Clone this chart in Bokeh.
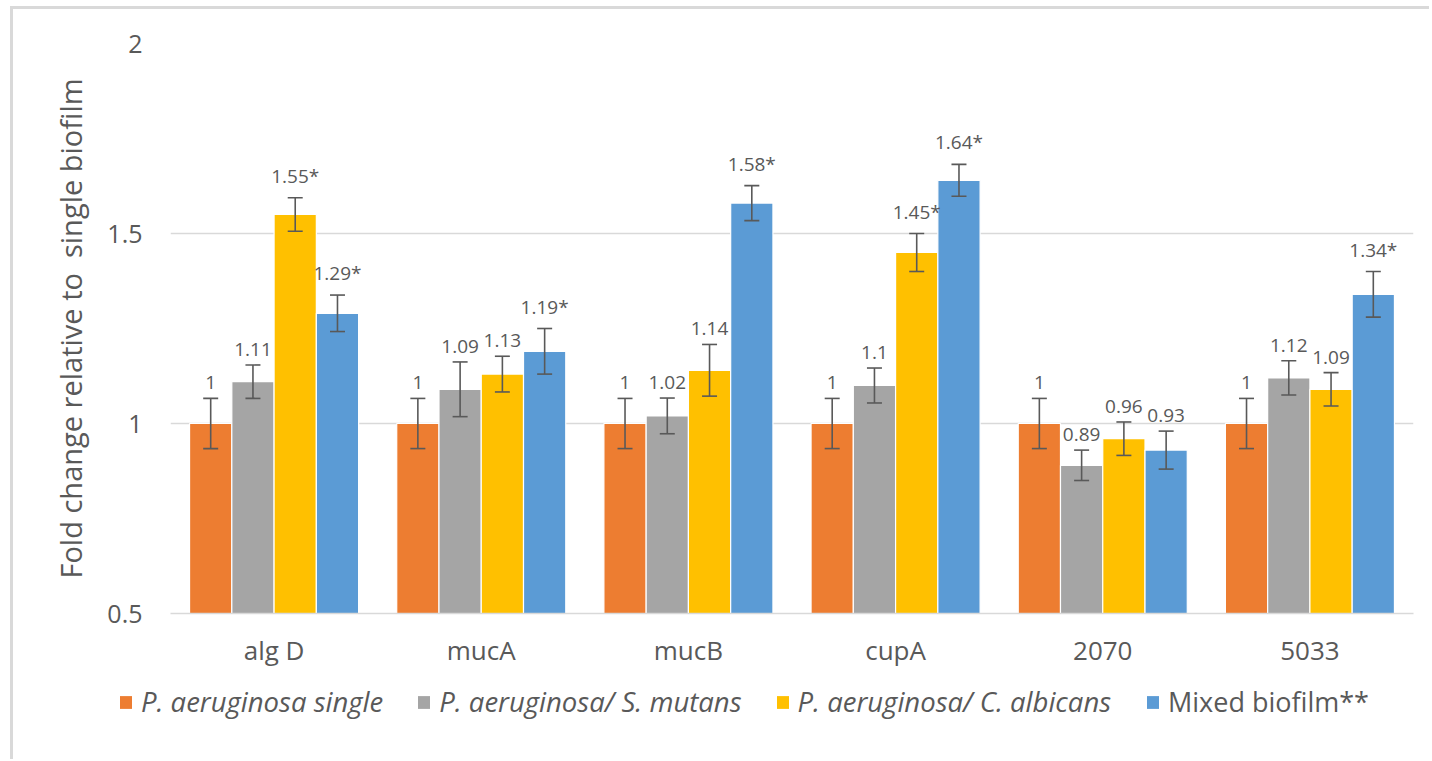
from bokeh.plotting import figure
from bokeh.layouts import column
from bokeh.models import (ColumnDataSource, FactorRange, Whisker, TeeHead, LabelSet,
                          Legend, LegendItem)
from bokeh.core.properties import value
from bokeh.transform import dodge
from bokeh.embed import file_html
from bokeh.resources import INLINE

# Genes on the category axis
genes = ["alg D", "mucA", "mucB", "cupA", "2070", "5033"]

# Fold change per condition
pa_single = [1, 1, 1, 1, 1, 1]
pa_smutans = [1.11, 1.09, 1.02, 1.1, 0.89, 1.12]
pa_calbicans = [1.55, 1.13, 1.14, 1.45, 0.96, 1.09]
mixed = [1.29, 1.19, 1.58, 1.64, 0.93, 1.34]

# Standard deviations (error bar half-lengths)
pa_single_err = [0.066, 0.066, 0.066, 0.066, 0.066, 0.066]
pa_smutans_err = [0.044, 0.072, 0.047, 0.046, 0.040, 0.045]
pa_calbicans_err = [0.044, 0.047, 0.068, 0.050, 0.044, 0.044]
mixed_err = [0.048, 0.060, 0.046, 0.042, 0.050, 0.060]

# Significance marks (*)
pa_single_sig = [False, False, False, False, False, False]
pa_smutans_sig = [False, False, False, False, False, False]
pa_calbicans_sig = [True, False, False, True, False, False]
mixed_sig = [True, True, True, True, False, True]

series_names = ["P. aeruginosa single", "P. aeruginosa/ S. mutans",
                "P. aeruginosa/ C. albicans", "Mixed biofilm**"]
colors = ["#ED7D31", "#A5A5A5", "#FFC000", "#5B9BD5"]

y_ticks = [0.5, 1, 1.5, 2]
y_min, y_max = 0.5, 2

TEXT = "#595959"
GRID = "#D9D9D9"
FONT = "Open Sans"

# ---- main bar chart ----
p = figure(x_range=FactorRange(*genes, range_padding=0), y_range=(y_min, y_max),
           width=1419, height=666, output_backend="svg", toolbar_location=None,
           min_border_left=157, min_border_right=19, min_border_top=34,
           min_border_bottom=62)
p.frame_align = False
p.margin = (6, 0, 0, 10)
p.styles = {"border-left": f"3px solid {GRID}", "border-top": f"3px solid {GRID}"}
p.outline_line_color = None
p.background_fill_color = "white"
p.border_fill_color = "white"

p.xgrid.grid_line_color = None
p.ygrid.grid_line_color = GRID
p.ygrid.grid_line_width = 1.3

p.yaxis.ticker = y_ticks
p.yaxis.axis_line_color = None
p.yaxis.major_tick_line_color = None
p.yaxis.minor_tick_line_color = None
p.yaxis.major_label_text_font = FONT
p.yaxis.major_label_text_font_size = "25px"
p.yaxis.major_label_text_color = TEXT
p.yaxis.major_label_standoff = 22
p.yaxis.axis_label = "Fold change relative to \u00a0single biofilm"
p.yaxis.axis_label_text_font = FONT
p.yaxis.axis_label_text_font_size = "29px"
p.yaxis.axis_label_text_font_style = "normal"
p.yaxis.axis_label_text_color = TEXT
p.yaxis.axis_label_standoff = 14

p.xaxis.axis_line_color = GRID
p.xaxis.axis_line_width = 1.3
p.xaxis.major_tick_line_color = None
p.xaxis.minor_tick_line_color = None
p.xaxis.major_label_text_font = FONT
p.xaxis.major_label_text_font_size = "26px"
p.xaxis.major_label_text_color = TEXT
p.xaxis.major_label_standoff = 12

bar_w = 0.204
offsets = [-1.5 * bar_w, -0.5 * bar_w, 0.5 * bar_w, 1.5 * bar_w]

data = [
    (pa_single, pa_single_err, pa_single_sig),
    (pa_smutans, pa_smutans_err, pa_smutans_sig),
    (pa_calbicans, pa_calbicans_err, pa_calbicans_sig),
    (mixed, mixed_err, mixed_sig),
]

for (vals, errs, sigs), color, off in zip(data, colors, offsets):
    src = ColumnDataSource(dict(
        gene=genes,
        val=vals,
        upper=[v + e for v, e in zip(vals, errs)],
        lower=[v - e for v, e in zip(vals, errs)],
        label=[f"{v:g}" + ("*" if s else "") for v, s in zip(vals, sigs)],
    ))
    xpos = dodge("gene", off, range=p.x_range)
    p.vbar(x=xpos, top="val", bottom=y_min, width=bar_w, source=src,
           fill_color=color, line_color="white", line_width=1.2)

    whisk = Whisker(base=xpos, upper="upper", lower="lower", source=src,
                    level="annotation", line_color=TEXT, line_width=1.6,
                    upper_head=TeeHead(size=15, line_color=TEXT, line_width=1.6),
                    lower_head=TeeHead(size=15, line_color=TEXT, line_width=1.6))
    p.add_layout(whisk)

    labels = LabelSet(x=xpos, y="upper", text="label", source=src,
                      text_align="center", text_baseline="bottom", y_offset=9,
                      text_font=value(FONT), text_font_size="19px", text_color=TEXT)
    p.add_layout(labels)

# ---- legend strip under the chart ----
lg = figure(width=1419, height=87, x_range=(0, 1), y_range=(0, 1),
            output_backend="svg", toolbar_location=None,
            min_border_left=0, min_border_right=0, min_border_top=0,
            min_border_bottom=0)
lg.frame_align = False
lg.margin = (0, 0, 0, 10)
lg.styles = {"border-left": f"3px solid {GRID}"}
lg.outline_line_color = None
lg.axis.visible = False
lg.grid.visible = False

# swatch renderers: one undefined (NaN) point each, so only the legend shows them
nan = float("nan")
items = []
for name, color in zip(series_names, colors):
    swatch = lg.vbar(x=[nan], top=[nan], width=0.1, fill_color=color, line_color=None)
    items.append(LegendItem(label=name, renderers=[swatch]))

legend_common = dict(orientation="horizontal", glyph_width=15, glyph_height=16,
                     label_standoff=8, spacing=33, padding=0, margin=0,
                     border_line_color=None, background_fill_alpha=0,
                     label_text_font=FONT, label_text_color=TEXT, label_height=24)

legend_species = Legend(items=items[:3], location=(105, 39),
                        label_text_font_style="italic", label_text_font_size="27.5px",
                        **legend_common)
legend_mixed = Legend(items=items[3:], location=(1132, 39),
                      label_text_font_style="normal", label_text_font_size="27px",
                      **legend_common)
lg.add_layout(legend_species)
lg.add_layout(legend_mixed)

page = column(p, lg, spacing=0)
open("out.html", "w").write(file_html(page, INLINE))
